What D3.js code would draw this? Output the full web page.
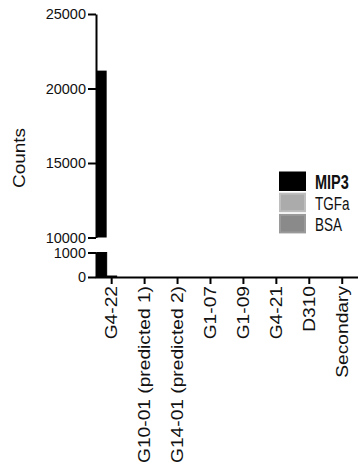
<!DOCTYPE html>
<html>
<head>
<meta charset="utf-8">
<script src="https://cdn.jsdelivr.net/npm/d3@7/dist/d3.min.js"></script>
<style>
  html, body { margin: 0; padding: 0; background: #fff; }
  svg { display: block; }
  text { font-family: "Liberation Sans", Arial, Helvetica, sans-serif; fill: #111; }
</style>
</head>
<body>
<svg id="chart" width="358" height="468"></svg>
<script>
// Antibody clones on the x axis
const categories = ["G4-22", "G10-01 (predicted 1)", "G14-01 (predicted 2)", "G1-07", "G1-09", "G4-21", "D310", "Secondary"];
// Binding counts per antigen
const seriesNames = ["MIP3", "TGFa", "BSA"];
const mip3 = [21200, 0, 0, 0, 0, 0, 0, 0];
const tgfa = [40, 0, 0, 0, 0, 0, 0, 0];
const bsa  = [0, 0, 0, 0, 0, 0, 0, 0];
const seriesColors = ["#000000", "#ababab", "#8a8a8a"];
// Broken y axis: upper and lower segments
const upperTicks = [10000, 15000, 20000, 25000];
const lowerTicks = [0, 1000];

const values = [mip3, tgfa, bsa];
const svg = d3.select("#chart");

const x = d3.scaleBand().domain(categories).range([95.2, 358.7]).paddingInner(0).paddingOuter(0);
const xSub = d3.scaleBand().domain(seriesNames).range([-15, 15]);
const yTop = d3.scaleLinear().domain([10000, 25000]).range([237.5, 14]);
const yBot = d3.scaleLinear().domain([0, 1000]).range([277, 252.5]);

const rows = [];
categories.forEach((c, i) => {
  seriesNames.forEach((s, j) => rows.push({ cat: c, series: s, value: values[j][i], color: seriesColors[j] }));
});
const cx = d => x(d.cat) + x.bandwidth() / 2 + xSub(d.series);

// Upper segment bars
svg.append("g").selectAll("rect")
  .data(rows.filter(d => d.value > 10000))
  .join("rect")
  .attr("x", cx)
  .attr("width", xSub.bandwidth())
  .attr("y", d => yTop(Math.min(d.value, 25000)))
  .attr("height", d => yTop(10000) - yTop(Math.min(d.value, 25000)))
  .attr("fill", d => d.color);

// Lower segment bars
svg.append("g").selectAll("rect")
  .data(rows.filter(d => d.value > 0))
  .join("rect")
  .attr("x", cx)
  .attr("width", xSub.bandwidth())
  .attr("y", d => yBot(Math.min(d.value, 1000)))
  .attr("height", d => yBot(0) - yBot(Math.min(d.value, 1000)))
  .attr("fill", d => d.color)
  .attr("stroke", "#000")
  .attr("stroke-width", 1);

function styleAxis(g) {
  g.selectAll("path, line").attr("stroke", "#000").attr("stroke-width", 2);
  g.selectAll("text").attr("fill", "#111");
}

// Y axes
svg.append("g")
  .attr("transform", "translate(96,0)")
  .call(d3.axisLeft(yTop).tickValues(upperTicks).tickFormat(d3.format("d")).tickSize(8).tickSizeOuter(0).tickPadding(2))
  .call(g => g.selectAll("text").style("font-size", "14.5px"))
  .call(styleAxis);

svg.append("g")
  .attr("transform", "translate(96,0)")
  .call(d3.axisLeft(yBot).tickValues(lowerTicks).tickFormat(d3.format("d")).tickSize(8).tickSizeOuter(0).tickPadding(2))
  .call(g => g.selectAll("text").style("font-size", "14.5px"))
  .call(styleAxis);

// X axis
svg.append("g")
  .attr("transform", "translate(0,277)")
  .call(d3.axisBottom(x).tickSize(7).tickSizeOuter(0))
  .call(styleAxis)
  .call(g => g.selectAll(".tick text")
    .attr("x", 0).attr("y", 0).attr("dy", "0.35em")
    .attr("text-anchor", "end")
    .attr("transform", "translate(0,9) rotate(-90) scale(1.2,1)")
    .style("font-size", "16px"));

// Y title
svg.append("text")
  .attr("transform", "translate(25,158) rotate(-90) scale(1.15,1)")
  .attr("text-anchor", "middle")
  .style("font-size", "16.5px")
  .text("Counts");

// Legend
const legend = svg.append("g");
seriesNames.forEach((s, i) => {
  const top = 172.5 + 21.2 * i;
  legend.append("rect")
    .attr("x", 280).attr("y", top)
    .attr("width", 25).attr("height", 17.5)
    .attr("fill", seriesColors[i])
    .attr("stroke", i === 0 ? "#000" : d3.color(seriesColors[i]).brighter(0.3))
    .attr("stroke-width", 2);
  legend.append("text")
    .attr("transform", `translate(315,${top + 16.5}) scale(1,1.4)`)
    .style("font-size", i === 0 ? "14.5px" : "13.5px")
    .style("font-weight", i === 0 ? "bold" : "normal")
    .text(s);
});
</script>
</body>
</html>
